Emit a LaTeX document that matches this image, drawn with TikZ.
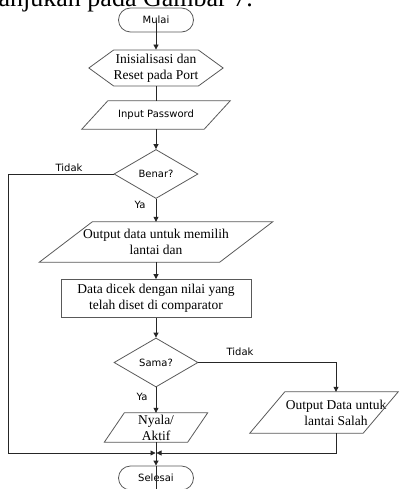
\documentclass[tikz,border=0pt]{standalone}
\usepackage{fontspec}
\setmainfont{Liberation Serif}
\newfontfamily\dejavu{DejaVu Sans}
\usepackage{xcolor}
\usepackage{tikz}
\usetikzlibrary{shapes.geometric,shapes.symbols,arrows.meta}

\begin{document}
\begin{tikzpicture}[
  x=1pt, y=-1pt,
  every node/.style={inner sep=0pt, align=center},
  serif/.style={font=\fontsize{13.5}{16}\selectfont},
  sans/.style={font=\dejavu\fontsize{10}{12}\selectfont},
  outline/.style={draw=black!65, line width=0.8pt},
  terminal/.style={sans, outline, rectangle, rounded corners=12pt, minimum width=75pt, minimum height=24pt},
  prep/.style={serif, outline, signal, signal to=west and east, signal pointer angle=72, minimum width=131pt, minimum height=36pt},
  iobox/.style={rectangle},
  process/.style={serif, outline, rectangle, minimum width=190pt, minimum height=38pt},
  decision/.style={sans, outline, diamond, minimum width=84pt, minimum height=49pt},
  tag/.style={sans},
  caption/.style={font=\fontsize{26}{30}\selectfont},
  link/.style={draw=black!85, line width=0.8pt},
  flow/.style={link, -{Triangle[length=5pt,width=5pt]}}
  ]
  \useasboundingbox (0,0) rectangle (403,489);

  \node[caption, anchor=base east] (caption) at (253,7) {anjukan pada Gambar 7.};

  \node[terminal] (mulai) at (156,20) {Mulai};
  \node[prep] (init) at (156,68) {Inisialisasi dan\\Reset pada Port};
  \node[iobox, sans, minimum width=122pt, minimum height=28pt] (password) at (156,115) {Input Password};
  \node[decision] (benar) at (156,174) {Benar?};
  \node[iobox, serif, minimum width=180pt, minimum height=40pt] (output) at (156,242) {Output data untuk memilih\\lantai dan};
  \node[process] (cek) at (156,298.5) {Data dicek dengan nilai yang\\telah diset di comparator};
  \node[decision] (sama) at (156,362.5) {Sama?};
  \node[iobox, serif, minimum width=83pt, minimum height=29pt] (nyala) at (156,427.5) {Nyala/\\Aktif};
  \node[iobox, serif, minimum width=113pt, minimum height=41pt] (salah) at (336,412.5) {Output Data untuk\\lantai Salah};
  \node[terminal] (selesai) at (156,478) {Selesai};

  \draw[outline] ([xshift=-13]password.south west) -- ([xshift=13]password.north west) -- ([xshift=13]password.north east) -- ([xshift=-13]password.south east) -- cycle;
  \draw[outline] ([xshift=-26.5]output.south west) -- ([xshift=26.5]output.north west) -- ([xshift=26.5]output.north east) -- ([xshift=-26.5]output.south east) -- cycle;
  \draw[outline] ([xshift=-10]nyala.south west) -- ([xshift=10]nyala.north west) -- ([xshift=10]nyala.north east) -- ([xshift=-10]nyala.south east) -- cycle;
  \draw[outline] ([xshift=-29.5]salah.south west) -- ([xshift=5.5]salah.north west) -- ([xshift=5.5]salah.north east) -- ([xshift=-29.5]salah.south east) -- cycle;

  \node[tag] (tidak1) at (69,168) {Tidak};
  \node[tag] (ya1) at (140,205) {Ya};
  \node[tag] (tidak2) at (240,352) {Tidak};
  \node[tag] (ya2) at (142,397) {Ya};

  \coordinate (merge) at (156,453);
  \coordinate (loopback) at (8,453);

  \draw[flow] (mulai.center) -- (init.north);
  \draw[link] (init.south) -- (password.north);
  \draw[flow] (password.south) -- (benar.north);
  \draw[flow] (benar.south) -- (output.north);
  \draw[flow] (output.south) -- (cek.north);
  \draw[flow] (cek.south) -- (sama.north);
  \draw[flow] (sama.south) -- (nyala.north);
  \draw[flow] (sama.east) -| (salah.north);
  \draw[flow] (benar.west) -| (loopback) -- ([xshift=-0.5]merge);
  \draw[flow] (salah.south) |- ([xshift=0.5]merge);
  \draw[flow] (nyala.south) -- (selesai.north);
  \draw[link] (selesai.north) -- (selesai.south);
\end{tikzpicture}
\end{document}
